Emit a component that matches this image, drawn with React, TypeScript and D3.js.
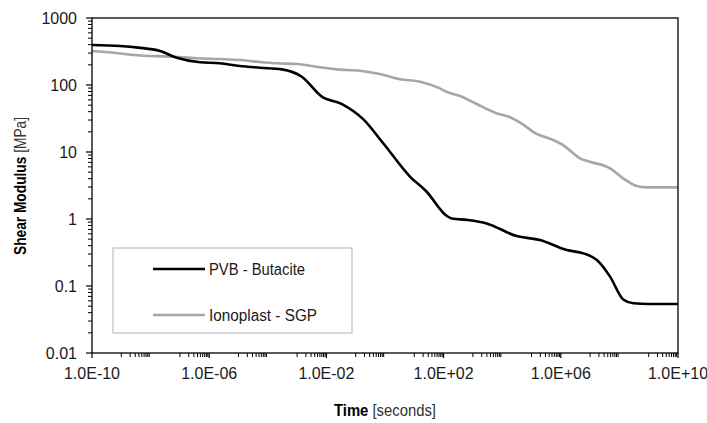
import React from 'react';
import * as d3 from 'd3';

const pvbTime = [1e-10, 9e-10, 3.8e-9, 2.1e-8, 7.8e-8, 4.9e-7, 2.3e-6, 1.1e-5, 5.4e-5, 3e-4, 1.45e-3, 7e-3, 3.4e-2, 0.18, 0.87, 7.1, 26.5, 128, 190, 615, 2950, 3.1e4, 1.95e5, 1.6e6, 5.9e6, 1.7e7, 4.8e7, 1.35e8, 3e8, 1e9, 1e10];
const pvbModulus = [395, 382, 361, 321, 255, 218, 211, 192, 181, 171, 133, 67, 52, 31, 13.5, 4.3, 2.55, 1.11, 1.02, 0.97, 0.86, 0.557, 0.486, 0.344, 0.307, 0.244, 0.138, 0.063, 0.0552, 0.0538, 0.0538];

const sgpTime = [1e-10, 5.4e-10, 2.6e-9, 6e-8, 3.7e-7, 2.3e-6, 1.1e-5, 4.2e-5, 2e-4, 1e-3, 6e-3, 2.2e-2, 0.14, 0.67, 3.25, 15.7, 75, 128, 363, 1350, 5.7e3, 1.85e4, 4.1e4, 1.5e5, 5.5e5, 1.2e6, 4.5e6, 9.8e6, 4.8e7, 1.35e8, 3.9e8, 8.5e8, 1e10];
const sgpModulus = [321, 303, 281, 264, 251, 244, 236, 223, 211, 206, 184, 171, 163, 146, 122, 112, 89, 79, 68.5, 52, 38.6, 33, 27.4, 18.6, 15.1, 12.7, 8.05, 7.16, 5.71, 4.05, 3.11, 2.97, 2.97];

const seriesNames = ['PVB - Butacite', 'Ionoplast - SGP'];
const seriesColors = ['#000000', '#a6a6a6'];
const legendTextWidths = [96, 108];

const xTickValues = [1e-10, 1e-6, 1e-2, 1e2, 1e6, 1e10];
const xTickLabels = ['1.0E-10', '1.0E-06', '1.0E-02', '1.0E+02', '1.0E+06', '1.0E+10'];
const yTickValues = [0.01, 0.1, 1, 10, 100, 1000];
const yTickLabels = ['0.01', '0.1', '1', '10', '100', '1000'];

const FONT = 'Liberation Sans, Arial, sans-serif';

export default function App() {
  const W = 707, H = 423;
  const x = d3.scaleLog().domain([1e-10, 1e10]).range([92, 678]);
  const y = d3.scaleLog().domain([0.01, 1000]).range([353, 18]);

  const line = d3.line<[number, number]>()
    .x(d => x(d[0]))
    .y(d => y(d[1]))
    .curve(d3.curveMonotoneX);

  const pvb = pvbTime.map((t, i) => [t, pvbModulus[i]] as [number, number]);
  const sgp = sgpTime.map((t, i) => [t, sgpModulus[i]] as [number, number]);

  const yMinor: number[] = [];
  for (let e = -2; e < 3; e++) for (let k = 2; k <= 9; k++) yMinor.push(k * Math.pow(10, e));
  const xMinor: number[] = [];
  for (let e = -9; e <= 9; e += 2) for (let k = 1; k <= 9; k++) xMinor.push(k * Math.pow(10, e));

  const [x0, x1] = x.range();
  const [y0, y1] = y.range();

  return (
    <svg width={W} height={H} style={{ position: 'absolute', left: 0, top: 0, background: '#fff' }} fontFamily={FONT}>
      <rect x={0} y={0} width={W} height={H} fill="#fff" />
      {/* series */}
      <path d={line(sgp) || ''} fill="none" stroke={seriesColors[1]} strokeWidth={2.6} strokeLinejoin="round" />
      <path d={line(pvb) || ''} fill="none" stroke={seriesColors[0]} strokeWidth={2.6} strokeLinejoin="round" />
      {/* frame */}
      <rect x={x0} y={y1} width={x1 - x0} height={y0 - y1} fill="none" stroke="#000" strokeWidth={1.3} />
      {/* y ticks */}
      {yTickValues.map((v, i) => (
        <g key={'yt' + i}>
          <line x1={x0 - 6} x2={x0} y1={y(v)} y2={y(v)} stroke="#000" strokeWidth={1.2} />
          <text x={77} y={y(v)} dy="0.35em" textAnchor="end" fontSize={16} fill="#1a1a1a">{yTickLabels[i]}</text>
        </g>
      ))}
      {yMinor.map((v, i) => (
        <line key={'ym' + i} x1={x0 - 4} x2={x0} y1={y(v)} y2={y(v)} stroke="#000" strokeWidth={1} />
      ))}
      {/* x ticks */}
      {xTickValues.map((v, i) => (
        <g key={'xt' + i}>
          <line x1={x(v)} x2={x(v)} y1={y0} y2={y0 + 5} stroke="#000" strokeWidth={1.2} />
          <text x={x(v)} y={379} textAnchor="middle" fontSize={16} fill="#1a1a1a">{xTickLabels[i]}</text>
        </g>
      ))}
      {xMinor.map((v, i) => (
        <line key={'xm' + i} x1={x(v)} x2={x(v)} y1={y0} y2={y0 + 4} stroke="#000" strokeWidth={1} />
      ))}
      {/* axis titles */}
      <text x={385} y={416} textAnchor="middle" fontSize={16} fill="#000" textLength={102} lengthAdjust="spacingAndGlyphs">
        <tspan fontWeight="bold">Time</tspan>
        <tspan fill="#333"> [seconds]</tspan>
      </text>
      <text transform="translate(26,186) rotate(-90)" textAnchor="middle" fontSize={17} fill="#000" textLength={138} lengthAdjust="spacingAndGlyphs">
        <tspan fontWeight="bold">Shear Modulus</tspan>
        <tspan fill="#333"> [MPa]</tspan>
      </text>
      {/* legend */}
      <rect x={113} y={248} width={239} height={85} fill="#fff" stroke="#b3b3b3" strokeWidth={1} />
      {seriesNames.map((n, i) => (
        <g key={'lg' + i}>
          <line x1={153} x2={205} y1={269 + i * 46} y2={269 + i * 46} stroke={seriesColors[i]} strokeWidth={2.6} />
          <text x={209} y={269 + i * 46} dy="0.35em" fontSize={16} fill="#1a1a1a" textLength={legendTextWidths[i]} lengthAdjust="spacingAndGlyphs">{n}</text>
        </g>
      ))}
    </svg>
  );
}
